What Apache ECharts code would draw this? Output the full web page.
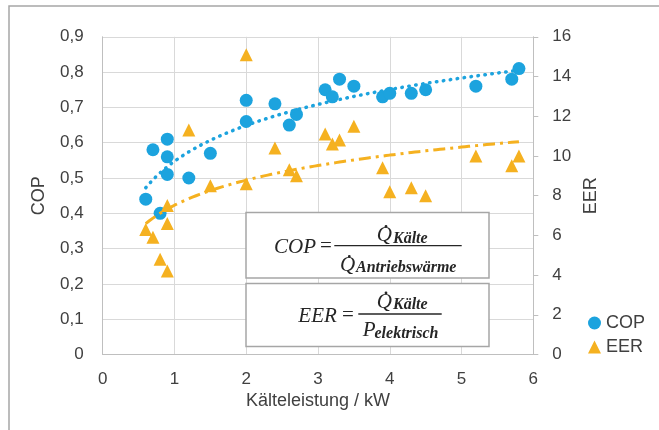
<!DOCTYPE html>
<html lang="de">
<head>
<meta charset="UTF-8">
<style>
    html, body { height: 100%; margin: 0; background: #fff; }
</style>
</head>
<body>
<div id="chart" style="width:659px;height:430px;"></div>
<script src="https://cdn.jsdelivr.net/npm/echarts@6/dist/echarts.min.js"></script>
<script>
    // Kälteleistung in kW (same for both series)
    var kw  = [0.6, 0.7, 0.8, 0.9, 0.9, 0.9, 1.2, 1.5, 2.0, 2.0, 2.4, 2.6, 2.7, 3.1, 3.2, 3.3, 3.5, 3.9, 4.0, 4.3, 4.5, 5.2, 5.7, 5.8];
    var cop = [0.44, 0.58, 0.40, 0.61, 0.56, 0.51, 0.50, 0.57, 0.72, 0.66, 0.71, 0.65, 0.68, 0.75, 0.73, 0.78, 0.76, 0.73, 0.74, 0.74, 0.75, 0.76, 0.78, 0.81];
    var eer = [6.3, 5.9, 4.8, 4.2, 6.6, 7.5, 11.3, 8.5, 15.1, 8.6, 10.4, 9.3, 9.0, 11.1, 10.6, 10.8, 11.5, 9.4, 8.2, 8.4, 8.0, 10.0, 9.5, 10.0];
    var copTicks = [0, 0.9, 0.1];
    var eerTicks = [0, 16, 2];

    var blue = '#1ca3de', orange = '#f5b120', txt = '#404040', grid = '#d9d9d9';

    // logarithmic trend line (least squares on ln x), like the Excel trendline
    function logTrend(xs, ys) {
        var n = xs.length, sx = 0, sy = 0, sxx = 0, sxy = 0;
        for (var i = 0; i < n; i++) {
            var l = Math.log(xs[i]);
            sx += l; sy += ys[i]; sxx += l * l; sxy += l * ys[i];
        }
        var b = (n * sxy - sx * sy) / (n * sxx - sx * sx);
        var a = (sy - b * sx) / n;
        var lo = Math.min.apply(null, xs), hi = Math.max.apply(null, xs), pts = [];
        for (var x = lo; x <= hi + 1e-9; x += 0.05) pts.push([x, a + b * Math.log(x)]);
        return pts;
    }

    function pairs(xs, ys) { return xs.map(function (x, i) { return [x, ys[i]]; }); }

    var serif = '"Liberation Serif", "DejaVu Serif", serif';
    function t(str, x, y, size, bold, align) {
        return { type: 'text', z: 110, x: x, y: y, style: {
            text: str, fill: '#262626', fontFamily: serif, fontSize: size,
            fontStyle: 'italic', fontWeight: bold ? 'bold' : 'normal',
            align: align || 'left', verticalAlign: 'middle' } };
    }
    function eq(x, y) {
        return { type: 'text', z: 110, x: x, y: y, style: {
            text: '=', fill: '#262626', fontFamily: serif, fontSize: 21,
            align: 'center', verticalAlign: 'middle' } };
    }
    function bar(x1, x2, y) {
        return { type: 'line', z: 110, shape: { x1: x1, y1: y, x2: x2, y2: y },
            style: { stroke: '#262626', lineWidth: 1.3 } };
    }
    function dot(x, y) {
        return { type: 'circle', z: 110, shape: { cx: x, cy: y, r: 1.4 }, style: { fill: '#262626' } };
    }

    var myChart = echarts.init(document.getElementById('chart'));
    myChart.setOption({
        animation: false,
        textStyle: { fontFamily: '"Liberation Sans", Arial, sans-serif' },
        grid: { left: 102.7, right: 125.7, top: 36.8, bottom: 75.5 },
        legend: {
            orient: 'vertical', left: 583, top: 309, itemGap: 6,
            itemWidth: 13, itemHeight: 13,
            textStyle: { fontSize: 18, color: txt },
            data: [{ name: 'COP', icon: 'circle' }, { name: 'EER', icon: 'triangle' }]
        },
        xAxis: {
            type: 'value', min: 0, max: 6, interval: 1,
            name: 'Kälteleistung / kW', nameLocation: 'middle', nameGap: 38,
            nameTextStyle: { fontSize: 18, color: txt },
            axisLine: { show: true, lineStyle: { color: '#bfbfbf' } },
            axisTick: { show: false },
            axisLabel: { fontSize: 17, color: txt, margin: 16 },
            splitLine: { show: true, lineStyle: { color: grid } }
        },
        yAxis: [{
            type: 'value', min: copTicks[0], max: copTicks[1], interval: copTicks[2],
            name: 'COP', nameLocation: 'middle', nameGap: 55,
            nameTextStyle: { fontSize: 18, color: txt },
            axisLine: { show: true, lineStyle: { color: '#bfbfbf' } },
            axisTick: { show: false },
            axisLabel: { fontSize: 17, color: txt, margin: 19,
                formatter: function (v) { return v === 0 ? '0' : v.toFixed(1).replace('.', ','); } },
            splitLine: { show: true, lineStyle: { color: grid } }
        }, {
            type: 'value', min: eerTicks[0], max: eerTicks[1], interval: eerTicks[2],
            name: 'EER', nameLocation: 'middle', nameGap: 47, nameRotate: 90,
            nameTextStyle: { fontSize: 18, color: txt },
            axisLine: { show: true, lineStyle: { color: '#bfbfbf' } },
            axisTick: { show: true, length: 5, lineStyle: { color: '#bfbfbf' } },
            axisLabel: { fontSize: 17, color: txt, margin: 19 },
            splitLine: { show: false }
        }],
        series: [{
            name: 'COP', type: 'scatter', yAxisIndex: 0, symbol: 'circle', symbolSize: 13,
            itemStyle: { color: blue, opacity: 1 }, data: pairs(kw, cop)
        }, {
            name: 'EER', type: 'scatter', yAxisIndex: 1, symbol: 'triangle', symbolSize: 13,
            itemStyle: { color: orange, opacity: 1 }, data: pairs(kw, eer)
        }, {
            name: 'COP trend', type: 'line', yAxisIndex: 0, showSymbol: false, smooth: false, z: 5,
            lineStyle: { color: blue, width: 3.5, type: [0.5, 6.5], cap: 'round' },
            data: logTrend(kw, cop)
        }, {
            name: 'EER trend', type: 'line', yAxisIndex: 1, showSymbol: false, smooth: false, z: 5,
            lineStyle: { color: orange, width: 3, type: [12, 5, 3, 5] },
            data: logTrend(kw, eer)
        }],
        graphic: [
            { type: 'rect', z: 1, silent: true, shape: { x: 9, y: 6, width: 700, height: 500 },
              style: { fill: 'none', stroke: '#a6a6a6', lineWidth: 1.5 } },
            { type: 'rect', z: 100, shape: { x: 246, y: 212.5, width: 243, height: 65.5 },
              style: { fill: '#fff', stroke: '#a6a6a6', lineWidth: 1.5 } },
            { type: 'rect', z: 100, shape: { x: 246, y: 283.5, width: 243, height: 63 },
              style: { fill: '#fff', stroke: '#a6a6a6', lineWidth: 1.5 } },
            // COP formula
            t('COP', 274, 247.5, 21), eq(326, 246.5), bar(334.3, 461.7, 245.7),
            t('Q', 376.7, 235, 21), dot(386, 226.5), t('Kälte', 393, 238.5, 16, true),
            t('Q', 340, 265.5, 21), dot(349.3, 256.5), t('Antriebswärme', 356, 268, 16, true),
            // EER formula
            t('EER', 298.3, 316.7, 21), eq(348, 315.5), bar(358.3, 441.7, 314),
            t('Q', 376.7, 302, 21), dot(386, 293), t('Kälte', 393, 305, 16, true),
            t('P', 362.7, 330, 21), t('elektrisch', 374.5, 333.5, 16, true)
        ]
    });
</script>
</body>
</html>
